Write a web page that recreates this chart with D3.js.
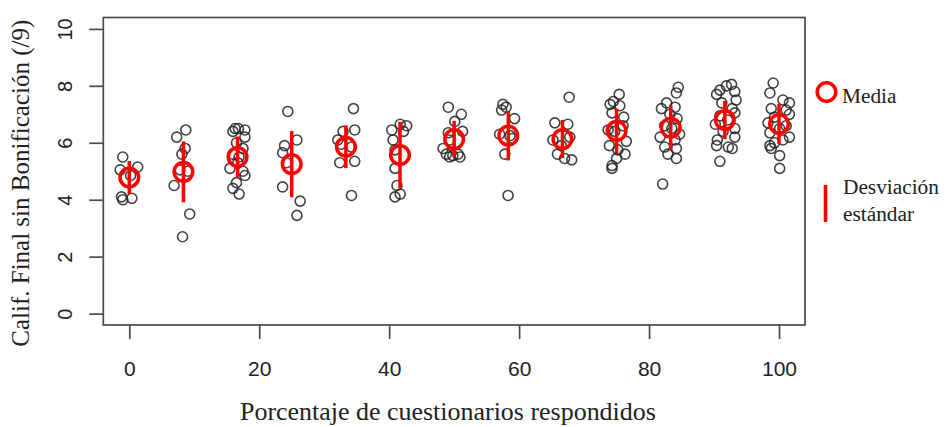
<!DOCTYPE html>
<html><head><meta charset="utf-8">
<script src="https://cdn.jsdelivr.net/npm/d3@7"></script>
<style>
html,body{margin:0;padding:0;background:#fff;}
svg{display:block;}
</style></head>
<body>
<svg id="chart" width="949" height="427"></svg>
<script>
// ---------- DATA ----------
const groupX = [0, 8.333, 16.667, 25, 33.333, 41.667, 50, 58.333, 66.667, 75, 83.333, 91.667, 100];
const meanVals = [4.78, 4.98, 5.50, 5.25, 5.86, 5.57, 6.13, 6.25, 6.13, 6.42, 6.53, 6.80, 6.66];
const sdVals   = [0.58, 1.07, 0.72, 1.16, 0.75, 1.17, 0.64, 0.87, 0.67, 0.78, 0.79, 0.67, 0.70];
const xTicks = [0, 20, 40, 60, 80, 100];
const yTicks = [0, 2, 4, 6, 8, 10];

// observed points (jittered x, grade)
const pts_0  = [[-1.0,5.5],[1.3,5.15],[-1.4,5.05],[0.2,4.85],[-1.2,4.1],[0.4,4.05],[-1.0,4.0]];
const pts_8  = [[8.7,6.45],[7.3,6.2],[8.6,5.8],[8.1,5.6],[7.8,5.05],[9.0,5.0],[6.9,4.5],[9.3,3.5],[8.2,2.7]];
const pts_17 = [[16.3,6.5],[16.8,6.5],[17.8,6.45],[15.95,6.4],[17.8,6.2],[16.5,6.0],[17.5,5.8],[15.95,5.6],[16.9,5.5],[16.7,5.3],[15.5,5.1],[17.5,5.0],[17.8,4.85],[16.5,4.6],[15.95,4.4],[16.9,4.2]];
const pts_25 = [[24.4,7.1],[25.8,6.1],[23.9,5.9],[23.6,5.65],[24.2,5.3],[23.6,4.45],[26.3,3.95],[25.8,3.45]];
const pts_33 = [[34.5,7.2],[34.7,6.45],[32.9,6.4],[32.1,6.1],[32.6,5.95],[34.2,5.85],[32.4,5.3],[34.7,5.35],[34.2,4.15]];
const pts_42 = [[41.7,6.65],[42.7,6.6],[40.4,6.45],[42.2,6.4],[40.6,6.1],[40.9,5.75],[40.9,5.1],[41.2,4.5],[41.7,4.2],[40.9,4.1]];
const pts_50 = [[49.1,7.25],[51.1,7.0],[50.1,6.75],[51.3,6.4],[49.1,6.35],[49.3,6.1],[48.3,5.8],[48.8,5.6],[49.8,5.55],[50.9,5.5],[49.3,5.5],[50.6,5.6]];
const pts_58 = [[57.5,7.35],[58.0,7.25],[57.3,7.15],[59.3,6.85],[57.0,6.3],[58.6,6.25],[59.0,6.15],[57.8,5.6],[58.3,4.15]];
const pts_67 = [[67.7,7.6],[65.5,6.7],[67.5,6.65],[67.8,6.2],[65.2,6.1],[66.5,5.9],[67.0,5.45],[68.1,5.4],[65.9,5.6]];
const pts_75 = [[75.4,7.7],[74.5,7.45],[74.0,7.35],[75.5,7.3],[74.3,7.05],[76.1,6.9],[76.0,6.6],[73.7,6.45],[74.7,6.4],[76.5,6.05],[73.9,5.9],[75.2,5.75],[76.3,5.6],[75.0,5.45],[74.3,5.2],[74.3,5.1]];
const pts_83 = [[84.5,7.95],[84.2,7.75],[82.7,7.4],[84.0,7.25],[81.9,7.2],[83.2,7.0],[84.3,6.85],[82.4,6.6],[83.5,6.5],[84.7,6.3],[81.7,6.2],[84.0,6.1],[82.4,5.85],[84.2,5.8],[82.9,5.6],[84.2,5.45],[82.1,4.55]];
const pts_92 = [[92.7,8.05],[91.9,8.0],[90.9,7.85],[93.2,7.8],[90.4,7.7],[93.4,7.5],[91.2,7.4],[92.8,7.2],[93.2,7.05],[90.9,6.95],[92.1,6.8],[90.2,6.65],[93.2,6.5],[91.4,6.4],[93.2,6.2],[90.5,6.1],[90.4,5.9],[92.2,5.85],[92.8,5.8],[90.9,5.35]];
const pts_100= [[99.1,8.1],[98.6,7.75],[100.6,7.5],[101.6,7.4],[98.8,7.2],[101.1,7.15],[101.6,7.0],[99.3,6.9],[98.3,6.7],[101.1,6.6],[100.1,6.5],[98.6,6.35],[101.6,6.2],[100.6,6.1],[99.3,6.0],[98.6,5.9],[98.8,5.8],[100.1,5.55],[100.1,5.1]];
const allPoints = [pts_0, pts_8, pts_17, pts_25, pts_33, pts_42, pts_50, pts_58, pts_67, pts_75, pts_83, pts_92, pts_100];

const xTitle = "Porcentaje de cuestionarios respondidos";
const yTitle = "Calif. Final sin Bonificación (/9)";
const legendMean = "Media";
const legendSd = ["Desviación", "estándar"];

// ---------- LAYOUT ----------
const box = {left: 103.3, right: 805, top: 17.5, bottom: 325};
const svg = d3.select("#chart");
const x = d3.scaleLinear().domain([-4, 104]).range([box.left, box.right]);
const y = d3.scaleLinear().domain([-0.4, 10.4]).range([box.bottom, box.top]);
const axisCol = "#4a4a4a";
const serif = "'Liberation Serif', 'Times New Roman', serif";
const sans = "'Liberation Sans', Arial, sans-serif";

function fit(sel, w) {
  const n = sel.node();
  const fs = parseFloat(sel.attr("font-size"));
  const cur = n.getComputedTextLength();
  const nf = fs * w / cur;
  sel.attr("font-size", nf.toFixed(2));
  return nf;
}

// points
const pg = svg.append("g");
allPoints.forEach(g => {
  pg.selectAll(null).data(g).enter().append("circle")
    .attr("cx", d => x(d[0])).attr("cy", d => y(d[1])).attr("r", 5)
    .attr("fill", "none").attr("stroke", "#222").attr("stroke-width", 1.6).attr("stroke-opacity", 0.85);
});

// sd bars and means
const stats = groupX.map((gx, i) => ({x: gx, m: meanVals[i], s: sdVals[i]}));
svg.append("g").selectAll("line").data(stats).enter().append("line")
  .attr("x1", d => x(d.x)).attr("x2", d => x(d.x))
  .attr("y1", d => y(d.m - d.s)).attr("y2", d => y(d.m + d.s))
  .attr("stroke", "#ff0000").attr("stroke-width", 3.5);
svg.append("g").selectAll("circle").data(stats).enter().append("circle")
  .attr("cx", d => x(d.x)).attr("cy", d => y(d.m)).attr("r", 9.3)
  .attr("fill", "none").attr("stroke", "#ff0000").attr("stroke-width", 3.5);

// box
svg.append("rect").attr("x", box.left).attr("y", box.top)
  .attr("width", box.right - box.left).attr("height", box.bottom - box.top)
  .attr("fill", "none").attr("stroke", axisCol).attr("stroke-width", 1.7);

// x axis
const xa = svg.append("g").attr("transform", `translate(0,${box.bottom})`)
  .call(d3.axisBottom(x).tickValues(xTicks).tickSize(14).tickSizeOuter(0).tickPadding(22).tickFormat(d3.format("d")));
xa.select(".domain").remove();
xa.selectAll(".tick line").attr("stroke", axisCol).attr("stroke-width", 1.7);
xa.selectAll(".tick text").attr("font-family", sans).attr("font-size", 21).attr("fill", "#222");

// y axis
const ya = svg.append("g").attr("transform", `translate(${box.left},0)`)
  .call(d3.axisLeft(y).tickValues(yTicks).tickSize(14).tickSizeOuter(0).tickFormat(d3.format("d")));
ya.select(".domain").remove();
ya.selectAll(".tick line").attr("stroke", axisCol).attr("stroke-width", 1.7);
ya.selectAll(".tick text").attr("font-family", sans).attr("font-size", 20)
  .attr("fill", "#222").attr("text-anchor", "middle")
  .attr("x", 0).attr("dy", 0)
  .attr("transform", "translate(-31,0) rotate(-90)");

// titles
const xt = svg.append("text").attr("x", 240).attr("y", 420)
  .attr("text-anchor", "start").attr("font-family", serif).attr("font-size", 22).attr("fill", "#222")
  .text(xTitle);
fit(xt, 416);
const yt = svg.append("text").attr("transform", `translate(29,${(box.top + box.bottom) / 2 + 12}) rotate(-90)`)
  .attr("text-anchor", "middle").attr("font-family", serif).attr("font-size", 22).attr("fill", "#222")
  .text(yTitle);
fit(yt, 327);

// legend
svg.append("circle").attr("cx", 826.5).attr("cy", 92).attr("r", 9.3)
  .attr("fill", "none").attr("stroke", "#ff0000").attr("stroke-width", 3.5);
svg.append("line").attr("x1", 825.5).attr("x2", 825.5).attr("y1", 185).attr("y2", 222)
  .attr("stroke", "#ff0000").attr("stroke-width", 3.6);
const l1 = svg.append("text").attr("x", 843).attr("y", 194).attr("font-family", serif)
  .attr("font-size", 21).attr("fill", "#222").text(legendSd[0]);
const lfs = fit(l1, 96);
svg.append("text").attr("x", 843).attr("y", 221).attr("font-family", serif)
  .attr("font-size", lfs.toFixed(2)).attr("fill", "#222").text(legendSd[1]);
svg.append("text").attr("x", 842).attr("y", 103).attr("font-family", serif)
  .attr("font-size", lfs.toFixed(2)).attr("fill", "#222").text(legendMean);
</script>
</body></html>
